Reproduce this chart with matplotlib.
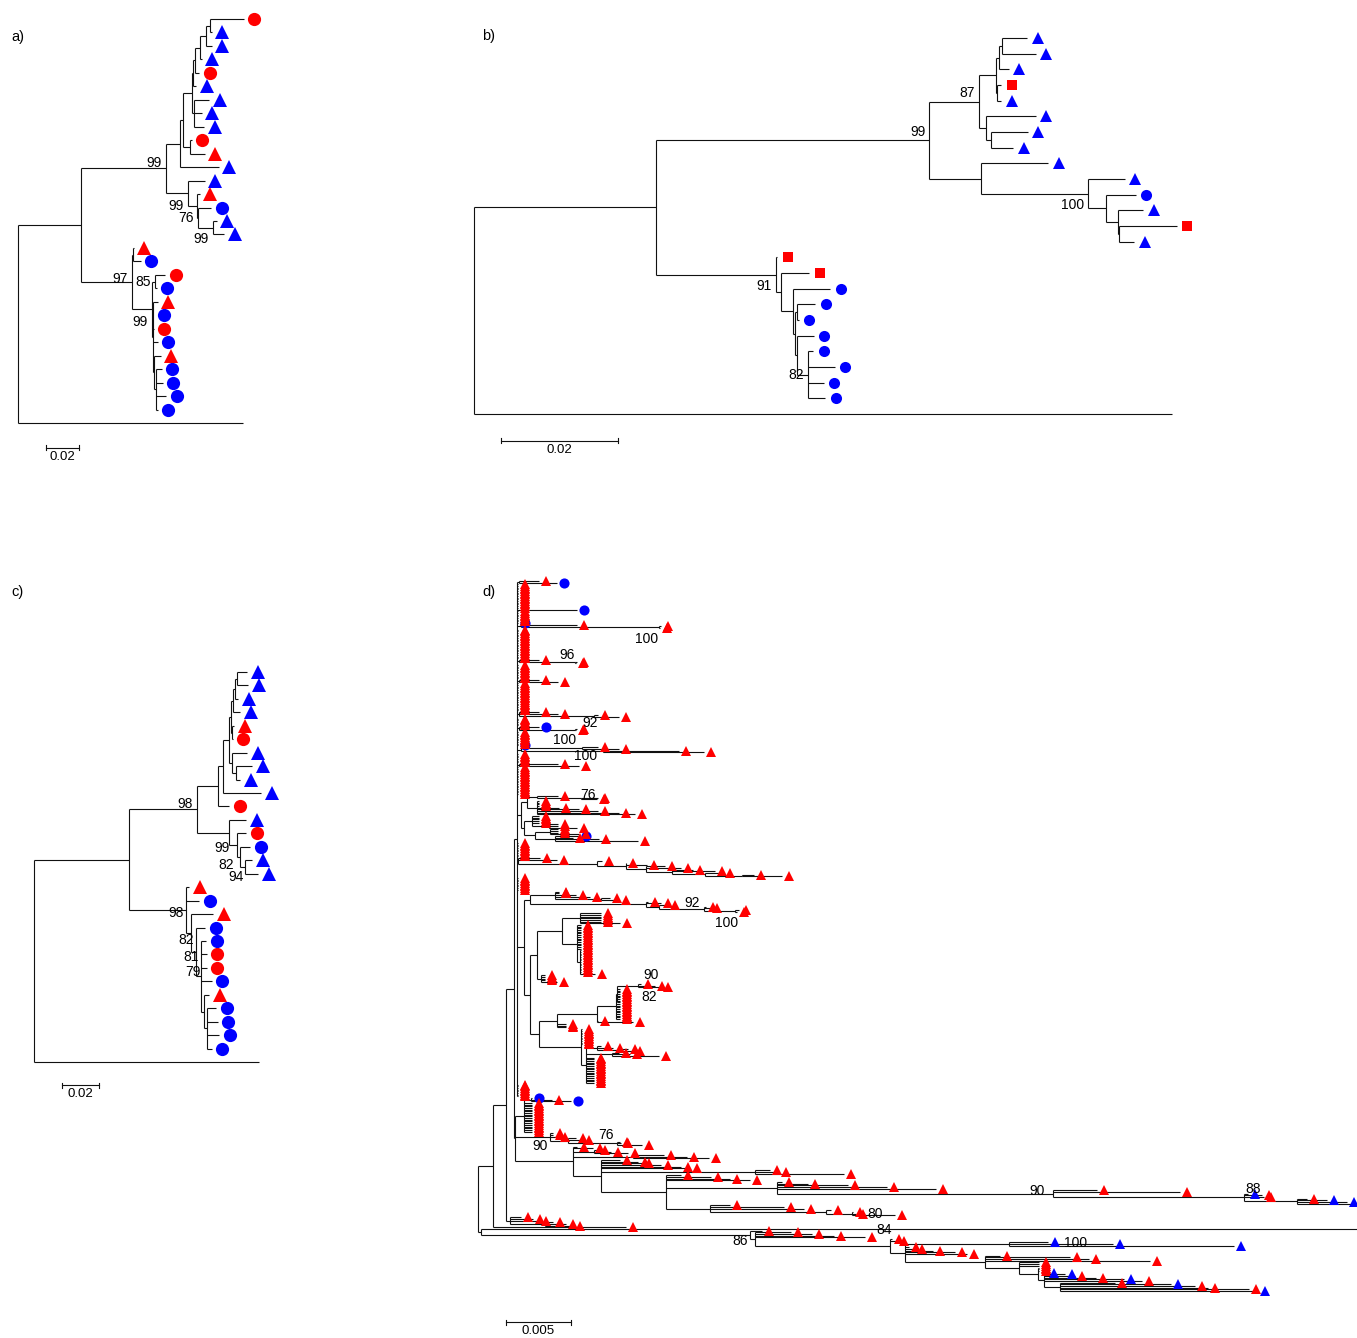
import matplotlib.pyplot as plt
from matplotlib.collections import LineCollection
from matplotlib.transforms import ScaledTranslation

plt.rcParams['font.family'] = ['Liberation Sans', 'DejaVu Sans']

W, H = 1357, 1338

# tip codes: R/B = red/blue, C/T/S = circle/triangle/square, X = outgroup (no symbol)
# "RT*5" = five identical tips, numbers after ")" are bootstrap values
# trees a-c: Newick branch lengths in 1e-3 subst./site
TREE_A = ("((("
          "((((((((RC:20.6,BT:1.2):2.4,BT:3.6):3.6,BT:1.2):3.0,RC:2.4):1.2,BT:1.8):0.6,"
          "(BT:9.1,BT:4.8,BT:6.1):1.2):5.5,(RC:1.2,RT:9.1):4.2):1.8,BT:23.6):8.5,"
          "(BT:10.3,(RT:1.8,(BC:7.9,(BT:2.4,BT:6.7)99:9.1)76:0.6):5.5)99:13.3)99:51.5,"
          "((RT:0.6,BC:4.8):0.6,((RC:6.1,BC:1.2)85:1.8,(RT:3.0,BC:0.1,RC:0.6,BC:3.0,"
          "(RT:4.2,(BC:3.6,BC:4.2,BC:6.1,BC:1.2):1.2):0.6):0.6)99:12.1)97:30.9):38.2,X:136.4);")

TREE_B = ("((("
          "((((BT:4.4,BT:5.8):0.5,BT:1.7):0.5,(RS:0.7,BT:0.7):0.2):2.9,(BT:8.5,(BT:6.3,BT:3.8):0.9):1.2)87:8.5,"
          "(BT:11.5,(BT:6.2,(BC:5.0,(BT:4.4,(RS:9.9,BT:2.7):0.2):1.9):3.1)100:18.3):8.9)99:46.7,"
          "(RS:0.2,(RS:4.8,(BC:6.3,((BC:3.1,BC:0.3):0.3,(BC:2.9,(BC:0.9,BC:4.6,BC:2.7,BC:2.9)82:1.9)"
          ":0.3):0.3):2.1):0.9)91:20.5):31.1,X:119.3);")

TREE_C = ("((("
          "(((((((BT:5.4,BT:5.9):1.1,BT:1.6):1.1,BT:3.8):1.1,(RT:1.1,RC:0.2):0.5):1.1,"
          "(BT:8.1,(BT:8.6,BT:2.2):2.2):1.6):3.2,BT:20.5):2.7,RC:5.9):11.4,"
          "(BT:9.2,(RC:4.9,(BC:5.4,(BT:3.8,BT:7.0)94:2.7)82:1.6)99:4.3):17.3)98:36.8,"
          "(RT:1.6,BC:7.0,(RT:11.9,(BC:4.9,(BC:2.7,RC:3.2,RC:3.2,BC:5.9,(RT:2.7,(BC:4.9,BC:5.9,"
          "BC:6.5,BC:2.7):1.6):1.6)79:2.7)81:2.7)82:2.7)98:30.8):51.4,X:121.6);")

# tree d: ":" values are node depths from the root in 1e-4 subst./site
D_COMB = ("(RT:47,BC:61):32,RT*15:31,BC:77,RT*7:31,BC:31,(RT:77,(RT:142,RT:141)100:140):33,"
          "RT*18:31,(RT:47,(RT:77,RT:76)96:75):32,RT*9:31,(RT:47,RT:62):32,RT*17:31,"
          "(RT:47,RT:62,(RT:93,RT:109):90):32,RT*5:31,(BC:47,(RT:77,RT:76)92:75):32,RT*8:31,BC:31,"
          "((RT:93,RT:109)100:81,(RT:156,RT:175)100:97):33,RT*6:31,(RT:62,RT:78):32,RT*17:31")
D_C76 = ("(((RT:62,(RT:93,RT:92)76:80):46,(RT*4:47,RT:63,RT:78,RT:93,RT:109,RT:122):46):38,"
         "((RT*5:47,(RT*2:62,RT:77):55):42,((RT*3:62,RT:78):56,(BC:78,RT:74,RT:94,RT:124):60):44):36):33")
D_LONG = ("(RT:48,RT:61,(RT:96,(RT:115,RT:131,(RT:145,RT:157,(RT:167,RT:184,(RT:190,"
          "(RT:214,RT:236):205):176):150):130):115):92):31")
D_C92 = ("((RT*2:63,RT:76,RT:87,(RT:102,RT:109):95):60,(RT:132,RT:142,(RT:147,(RT:177,RT:180,"
         "(RT:202,RT:201)100:199)92:175):140):130):40")
D_UP = "(((RT*6:95,RT:110):79,(RT*15:80,(RT*14:80,RT:91):79):77):65,(RT*4:52,RT:61):49):46"
D_MIDC = "(((((RT:126,RT:137,RT:142)90:124,RT*9:110)82:108,RT*10:110):107,RT:93,RT:120):92,RT*3:68):61"
D_LOWC = "(RT*10:81,((RT:95,RT:105,(RT:116,RT:120):112):92,(RT:109,RT:118,RT:140):104,RT*16:90):84):80"
D_R8 = "((BC:42,RT:57,BC:72):41,RT*18:42):36"
D_R8B = "(RT*2:58,RT:62,(RT:76,RT:81,(RT:110,RT:111,RT:127)76:108):70)90:56"
D_LONG2 = ("(RT:236,RT:256,RT:287,RT:317,RT:355,(RT:480,RT:544,(BT:597,RT:608,RT:609,"
           "(RT:643,BT:658,BT:674,BC:680):635)88:594)90:446):232")
D_STEP = ("(RT:77,RT:89,(RT:93,RT:103,RT:116):90,(RT:144,RT:162,RT:179):120,"
          "(RT:110,RT:124,RT:127,RT:142,RT:157,RT:164,(RT:226,RT:233,RT:284):215,"
          "(RT:157,RT:181,RT:195,RT:211," + D_LONG2 + ","
          "(RT:195,RT:237,RT:253,(RT:274,(RT:291,RT:293,RT:323)80:290):270):180):146):95):74")
D_SMALL = "(RT:33,RT:43,RT:47,(RT:58,RT:68,RT:74):52):25"
D_86 = ("(RT:220,(RT:243,RT:259,RT:276,RT:300,(RT:321,RT:325,((BT:442,BT:492,BT:586)100:412,"
        "RT:334,RT:339,RT:353,RT:370,RT:379,(RT:405,RT:459,RT:474,RT:521,(RT*3:435,(RT*3:435,"
        "(BT:441,BT:455,RT:463,RT:479,BT:501,RT:515,(RT:494,BT:537,RT:556,RT:566,RT:598,BT:605):451)"
        ":439):434):419):393):331)84:319):215)86:211")
TREE_D = ("(((((" + D_COMB + "," + D_C76 + ",RT*9:31," + D_LONG + ",RT*8:31,"
          "(" + D_C92 + ",(" + D_UP + ",(" + D_MIDC + "," + D_LOWC + "):47):40):36,RT*8:31):30,"
          "(" + D_R8 + "," + D_R8B + "," + D_STEP + "):29):28," + D_SMALL + "):22,RT:115):12,"
          "(X:730," + D_86 + "):2);")

# where a bootstrap value sits off its node (px, right / down), by label order (children first)
NUDGE_A = {0: (0, 11), 2: (0, 13), 3: (0, -5), 5: (0, 13), 6: (0, -3)}
NUDGE_B = {0: (0, -9), 1: (0, 11), 2: (0, -8), 4: (0, 11)}
NUDGE_C = {0: (3, 10), 1: (-2, 8), 2: (-4, 3), 3: (0, -5), 4: (4, -4), 5: (7, 5), 6: (7, 7), 7: (2, 3)}
NUDGE_D = {0: (4, 12), 1: (4, -7), 2: (27, -7), 3: (-2, -8), 4: (-2, 5), 5: (19, -3), 6: (7, 12),
           7: (0, -6), 8: (25, -11), 9: (44, 3), 10: (0, -8), 11: (2, 9), 12: (21, -8), 13: (-5, -3),
           14: (35, 0), 15: (82, -1), 16: (6, -16), 17: (2, 6)}

STYLE = {'RC': ('#ff0000', 'o'), 'BC': ('#0000ff', 'o'), 'RT': ('#ff0000', '^'),
         'BT': ('#0000ff', '^'), 'RS': ('#ff0000', 's')}


def parse(s):
    pos = 0

    def node():
        nonlocal pos
        kids = []
        if s[pos] == '(':
            pos += 1
            kids.append(node())
            while s[pos] == ',':
                pos += 1
                kids.append(node())
            pos += 1
        start = pos
        while s[pos] not in ':,();':
            pos += 1
        name = s[start:pos]
        val = 0.0
        if s[pos] == ':':
            pos += 1
            start = pos
            while s[pos] not in ',();':
                pos += 1
            val = float(s[start:pos])
        return {'kids': kids, 'name': name, 'val': val}
    return node()


def layout(tree, depth):
    segs, tips, labels = [], [], []
    count = [0]

    def walk(nd, px):
        x = nd['val'] if depth else px + nd['val']
        if not nd['kids']:
            code, _, n = nd['name'].partition('*')
            ys = []
            for _ in range(int(n or 1)):
                y = count[0]
                count[0] += 1
                tips.append((x, y, code))
                segs.append([(px, y), (x, y)])
                ys.append(y)
            return ys
        ys = []
        for k in nd['kids']:
            ys += walk(k, x)
        y = (ys[0] + ys[-1]) / 2
        segs.append([(x, ys[0]), (x, ys[-1])])
        segs.append([(px, y), (x, y)])
        if nd['name']:
            labels.append((x, y, nd['name']))
        return [y]
    walk(tree, 0.0)
    return segs, tips, labels, count[0]


fig = plt.figure(figsize=(W / 100, H / 100), dpi=100)

# panel: tree, depth mode, box px (l, t, r, b), root x px, px per unit, first/last tip y px,
# marker size, marker offset px, scale bar (x px, y px, length, text), tag position, label nudges
PANELS = [
    ('a)', TREE_A, False, (0, 0, 300, 480), 18, 1.65, 19, 423, 9.5, 10.5,
     (46, 448, 20, '0.02'), (11, 37), NUDGE_A),
    ('b)', TREE_B, False, (460, 0, 1240, 480), 474, 5.85, 38, 414, 8.0, 10.5,
     (501, 441, 20, '0.02'), (482, 36), NUDGE_B),
    ('c)', TREE_C, False, (0, 600, 300, 1120), 34, 1.85, 672, 1062, 9.5, 10.5,
     (62, 1085, 20, '0.02'), (11, 592), NUDGE_C),
    ('d)', TREE_D, True, (470, 570, 1357, 1338), 478, 1.29, 581, 1291, 7.3, 7.0,
     (506, 1322, 50, '0.005'), (482, 592), NUDGE_D),
]

for tag, tree, depth, box, root, ppu, y0, y1, ms, off, bar, tagpos, nudge in PANELS:
    segs, tips, labels, n = layout(parse(tree), depth)
    dy = (y1 - y0) / (n - 1)
    l, t, r, b = box
    ax = fig.add_axes([l / W, 1 - b / H, (r - l) / W, (b - t) / H])
    ax.set_xlim((l - root) / ppu, (r - root) / ppu)
    ax.set_ylim((b - y0) / dy, (t - y0) / dy)
    ax.axis('off')

    ax.add_collection(LineCollection(segs, colors='#111111', linewidths=0.8))
    shift = ax.transData + ScaledTranslation(off / 100, 0, fig.dpi_scale_trans)
    for code, (col, mk) in STYLE.items():
        pts = [(x, y) for x, y, c in tips if c == code]
        if pts:
            xs, ys = zip(*pts)
            size = ms * 0.85 if mk == 's' else ms
            ax.plot(xs, ys, ls='none', marker=mk, color=col, ms=size, mew=0,
                    transform=shift, zorder=3)
    for i, (x, y, lab) in enumerate(labels):
        ndx, ndy = nudge.get(i, (0, 0))
        ax.annotate(lab, (x, y), xytext=(-4 + ndx, -ndy), textcoords='offset pixels',
                    ha='right', va='center', fontsize=10, zorder=4)

    bx, by, blen, btxt = bar
    xa = (bx - root) / ppu
    ya = (by - y0) / dy
    tk = 2.5 / dy
    ax.plot([xa, xa + blen], [ya, ya], color='#111111', lw=0.8)
    ax.plot([xa, xa], [ya - tk, ya + tk], color='#111111', lw=0.8)
    ax.plot([xa + blen, xa + blen], [ya - tk, ya + tk], color='#111111', lw=0.8)
    ax.text(xa + blen / 2, ya + 3 / dy, btxt, ha='center', va='top', fontsize=9.5)

    fig.text(tagpos[0] / W, 1 - tagpos[1] / H, tag, fontsize=10.5, va='center')

fig.savefig('out.png', dpi=100)
